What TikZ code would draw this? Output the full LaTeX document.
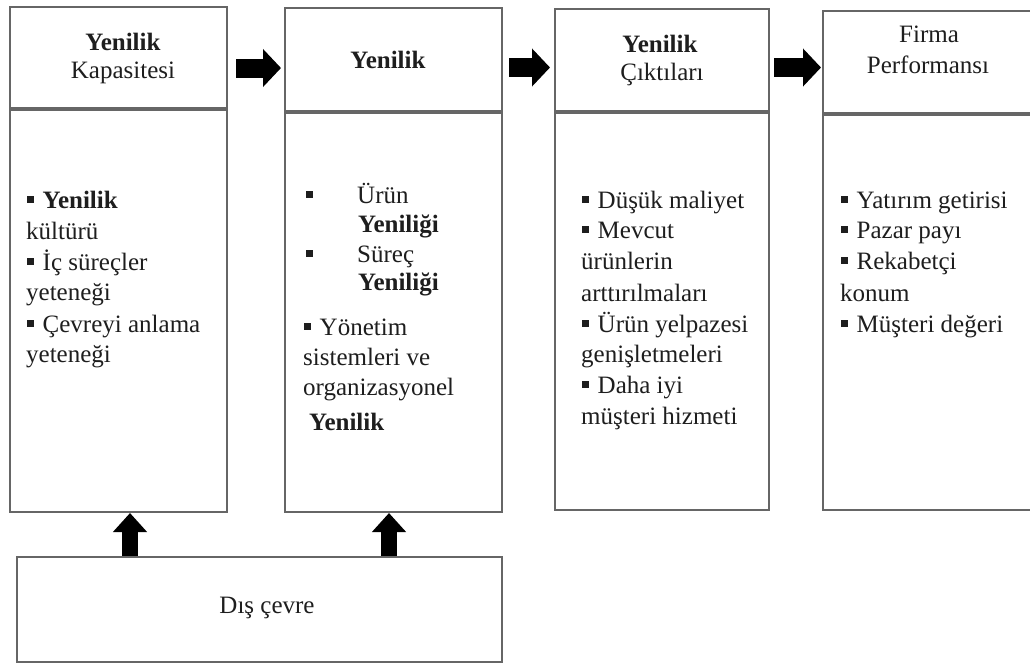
\documentclass[tikz,border=0pt]{standalone}
\usepackage{fontspec}
\setmainfont{Liberation Serif}
\usetikzlibrary{arrows.meta}
\definecolor{frame}{HTML}{666666}
\definecolor{ink}{HTML}{1E1E1E}
% small square bullet followed by its gap
\newcommand\blt{\rule[5pt]{7pt}{7pt}\hspace{8.5pt}}
\newcommand\sqmark{\rule[5pt]{7pt}{7pt}}

\begin{document}
\begin{tikzpicture}[x=1pt,y=-1pt,
  panel/.style={draw=frame, line width=2pt, fill=white, inner sep=0pt, rectangle},
  txt/.style={anchor=base west, inner sep=0pt, text=ink, font=\fontsize{25}{30}\selectfont},
  hd/.style={anchor=base, inner sep=0pt, text=ink, font=\fontsize{25}{30}\selectfont},
  flow/.style={draw=black, line width=19pt, -{Triangle[length=18pt,width=37pt]}},
  rise/.style={draw=black, line width=16pt, -{Triangle[length=19pt,width=33pt]}}]

\useasboundingbox (0,0) rectangle (1030,664);
\clip (0,0) rectangle (1030,664);
\fill[white] (0,0) rectangle (1030,664);

% column panels: header + body (their touching edges form a heavy divider)
\node[panel, minimum width=217pt, minimum height=101pt] (h1) at (118.5,57.5) {};
\node[panel, minimum width=217pt, minimum height=402pt] (p1) at (118.5,311) {};
\node[panel, minimum width=217pt, minimum height=103pt] (h2) at (393.5,59.5) {};
\node[panel, minimum width=217pt, minimum height=399pt] (p2) at (393.5,312.5) {};
\node[panel, minimum width=214pt, minimum height=102pt] (h3) at (662,60) {};
\node[panel, minimum width=214pt, minimum height=397pt] (p3) at (662,311.5) {};
\node[panel, minimum width=222pt, minimum height=102pt] (h4) at (934,62) {};
\node[panel, minimum width=222pt, minimum height=395pt] (p4) at (934,312.5) {};
% external environment panel
\node[panel, minimum width=485pt, minimum height=105pt] (env) at (259.5,609.5) {};

% headers
\node[hd] (h1a) at (123,50) {\textbf{Yenilik}};
\node[hd] (h1b) at (123,78) {Kapasitesi};
\node[hd] (h2a) at (388,68) {\textbf{Yenilik}};
\node[hd] (h3a) at (660,52) {\textbf{Yenilik}};
\node[hd] (h3b) at (662,80) {Çıktıları};
\node[hd] (h4a) at (929,42) {Firma};
\node[hd] (h4b) at (928,73) {Performansı};

% column 1
\node[txt] (c1a) at (27,208) {\blt\textbf{Yenilik}};
\node[txt] (c1b) at (26,239) {kültürü};
\node[txt] (c1c) at (27,270) {\blt İç süreçler};
\node[txt] (c1d) at (26,300) {yeteneği};
\node[txt] (c1e) at (27,332) {\blt Çevreyi anlama};
\node[txt] (c1f) at (26,362) {yeteneği};

% column 2
\node[txt] (c2m1) at (306,203) {\sqmark};
\node[txt] (c2a) at (357,203) {Ürün};
\node[txt] (c2b) at (358,232) {\textbf{Yeniliği}};
\node[txt] (c2m2) at (306,262) {\sqmark};
\node[txt] (c2c) at (357,262) {Süreç};
\node[txt] (c2d) at (358,290) {\textbf{Yeniliği}};
\node[txt] (c2e) at (304,335) {\blt Yönetim};
\node[txt] (c2f) at (303,365) {sistemleri ve};
\node[txt] (c2g) at (303,395) {organizasyonel};
\node[txt] (c2h) at (309,430) {\textbf{Yenilik}};

% column 3
\node[txt] (c3a) at (582,208) {\blt Düşük maliyet};
\node[txt] (c3b) at (582,238) {\blt Mevcut};
\node[txt] (c3c) at (581,269) {ürünlerin};
\node[txt] (c3d) at (581,301) {arttırılmaları};
\node[txt] (c3e) at (582,332) {\blt Ürün yelpazesi};
\node[txt] (c3f) at (581,362) {genişletmeleri};
\node[txt] (c3g) at (582,393) {\blt Daha iyi};
\node[txt] (c3h) at (581,424) {müşteri hizmeti};

% column 4
\node[txt] (c4a) at (841,208) {\blt Yatırım getirisi};
\node[txt] (c4b) at (841,238) {\blt Pazar payı};
\node[txt] (c4c) at (841,269) {\blt Rekabetçi};
\node[txt] (c4d) at (840,301) {konum};
\node[txt] (c4e) at (841,332) {\blt Müşteri değeri};

\node[hd] (envlabel) at (267,613) {Dış çevre};

% block arrows between the headers
\draw[flow, shorten <=8pt, shorten >=3pt]
  ([yshift=-10.5pt]h1.east) -- ([yshift=-10.5pt]h1.east -| h2.west);
\draw[flow, shorten <=6pt, shorten >=4pt]
  ([yshift=-8pt]h2.east) -- ([yshift=-8pt]h2.east -| h3.west);
\draw[flow, shorten <=4pt, shorten >=1pt]
  ([yshift=-7.5pt]h3.east) -- ([yshift=-7.5pt]h3.east -| h4.west);

% arrows rising from the environment
\draw[rise] ([xshift=-129.5pt]env.north) -- ([xshift=-129.5pt]env.north |- p1.south);
\draw[rise] ([xshift=129.5pt]env.north) -- ([xshift=129.5pt]env.north |- p2.south);

\end{tikzpicture}
\end{document}
